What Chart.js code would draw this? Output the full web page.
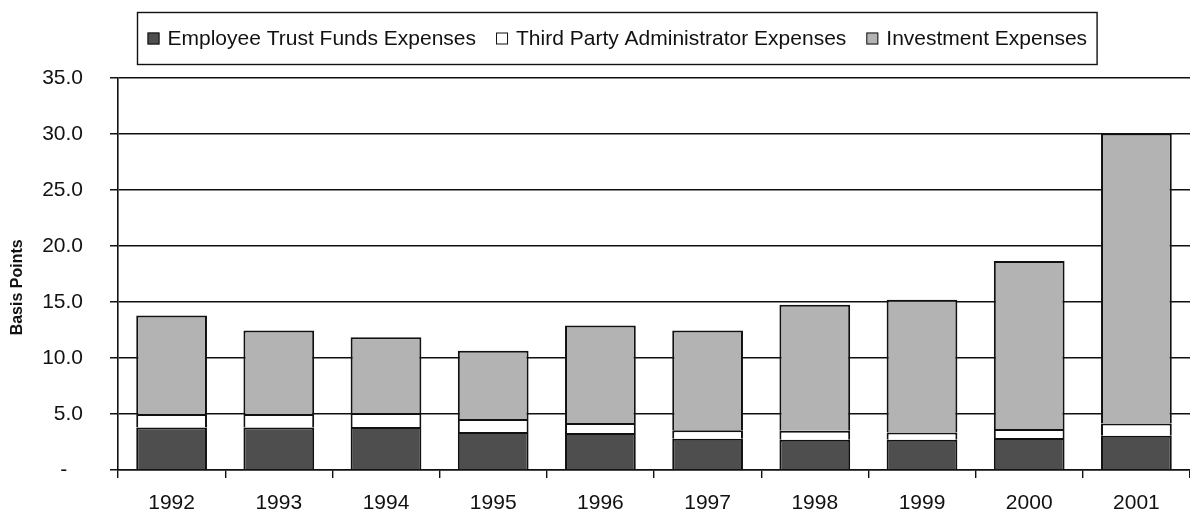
<!DOCTYPE html>
<html>
<head>
<meta charset="utf-8">
<script src="https://cdn.jsdelivr.net/npm/chart.js@4.4.0/dist/chart.umd.min.js"></script>
<style>
  html, body { margin: 0; padding: 0; background: #fff; }
</style>
</head>
<body>
<canvas id="graficoDespesas" width="1190" height="512"></canvas>
<script>
// Anos (categorias)
const anos = ["1992", "1993", "1994", "1995", "1996", "1997", "1998", "1999", "2000", "2001"];

// Despesas em basis points, por tipo
const despesasETF = [3.8, 3.8, 3.85, 3.4, 3.3, 2.8, 2.7, 2.7, 2.85, 3.05];
const despesasTPA = [1.2, 1.2, 1.25, 1.15, 0.9, 0.75, 0.8, 0.65, 0.8, 1.1];
const despesasInvest = [8.8, 7.45, 6.75, 6.1, 8.7, 8.9, 11.25, 11.85, 15.0, 25.9];

const nomesSeries = [
  "Employee Trust Funds Expenses",
  "Third Party Administrator Expenses",
  "Investment Expenses",
];
const coresSeries = ["#4e4e4e", "#ffffff", "#b3b3b3"];

const fonte = "'Liberation Sans', Arial, Helvetica, sans-serif";

// Legenda com caixa, desenhada à mão no topo
const legendaCaixa = {
  id: "legendaCaixa",
  afterDraw(chart) {
    const ctx = chart.ctx;
    ctx.save();
    ctx.font = "21px " + fonte;
    const quad = 12;
    const gapTexto = 8;
    const gapItem = 20;
    const larguras = chart.data.datasets.map(
      (d) => quad + gapTexto + ctx.measureText(d.label).width
    );
    const total = larguras.reduce((a, b) => a + b, 0) + gapItem * (larguras.length - 1);
    const padX = 10;
    const caixaW = total + padX * 2;
    const caixaX = Math.round(chart.width / 2 + 22 - caixaW / 2) + 0.5;
    const caixaY = 12.5;
    const caixaH = 52;

    ctx.strokeStyle = "#111";
    ctx.lineWidth = 1.4;
    ctx.strokeRect(caixaX, caixaY, caixaW, caixaH);

    let x = caixaX + padX;
    const meio = caixaY + caixaH / 2;
    chart.data.datasets.forEach((d, i) => {
      ctx.fillStyle = d.backgroundColor;
      ctx.fillRect(x, meio - quad / 2, quad, quad);
      ctx.lineWidth = 1;
      ctx.strokeStyle = "#111";
      ctx.strokeRect(x + 0.5, meio - quad / 2 + 0.5, quad - 1, quad - 1);
      ctx.fillStyle = "#111";
      ctx.textBaseline = "middle";
      ctx.textAlign = "left";
      ctx.fillText(d.label, x + quad + gapTexto, meio + 1);
      x += larguras[i] + gapItem;
    });
    ctx.restore();
  },
};

const ctx = document.getElementById("graficoDespesas").getContext("2d");

new Chart(ctx, {
  type: "bar",
  data: {
    labels: anos,
    datasets: [
      { label: nomesSeries[0], data: despesasETF, backgroundColor: coresSeries[0] },
      { label: nomesSeries[1], data: despesasTPA, backgroundColor: coresSeries[1] },
      { label: nomesSeries[2], data: despesasInvest, backgroundColor: coresSeries[2] },
    ].map((ds) => ({
      ...ds,
      borderColor: "#111",
      borderWidth: 2,
      borderSkipped: "start",
      categoryPercentage: 0.66,
      barPercentage: 1,
    })),
  },
  options: {
    responsive: false,
    animation: false,
    devicePixelRatio: 1,
    layout: { padding: { top: 78, right: 0, left: 0, bottom: 0 } },
    plugins: {
      legend: { display: false },
      tooltip: { enabled: false },
    },
    scales: {
      x: {
        stacked: true,
        offset: true,
        afterFit: (scale) => { scale.height = 42; },
        grid: {
          offset: true,
          drawOnChartArea: false,
          drawTicks: true,
          tickLength: 8,
          color: "#111",
          lineWidth: 1.4,
        },
        border: { display: true, color: "#111", width: 1.6 },
        ticks: {
          color: "#111",
          padding: 13,
          font: { family: fonte, size: 21 },
          maxRotation: 0,
        },
      },
      y: {
        stacked: true,
        min: 0,
        max: 35,
        afterFit: (scale) => { scale.width = 118; },
        grid: {
          color: "#111",
          lineWidth: 1.5,
          drawTicks: true,
          tickLength: 8,
        },
        border: { display: true, color: "#111", width: 1.6 },
        ticks: {
          stepSize: 5,
          color: "#111",
          padding: 27,
          font: { family: fonte, size: 21 },
          callback: (valor) => (valor === 0 ? "-  \u2009" : valor.toFixed(1)),
        },
        title: {
          display: true,
          text: "Basis Points      ",
          color: "#111",
          font: { family: fonte, size: 16, weight: "bold" },
          padding: { top: 8, bottom: 0 },
        },
      },
    },
  },
  plugins: [legendaCaixa],
});
</script>
</body>
</html>
